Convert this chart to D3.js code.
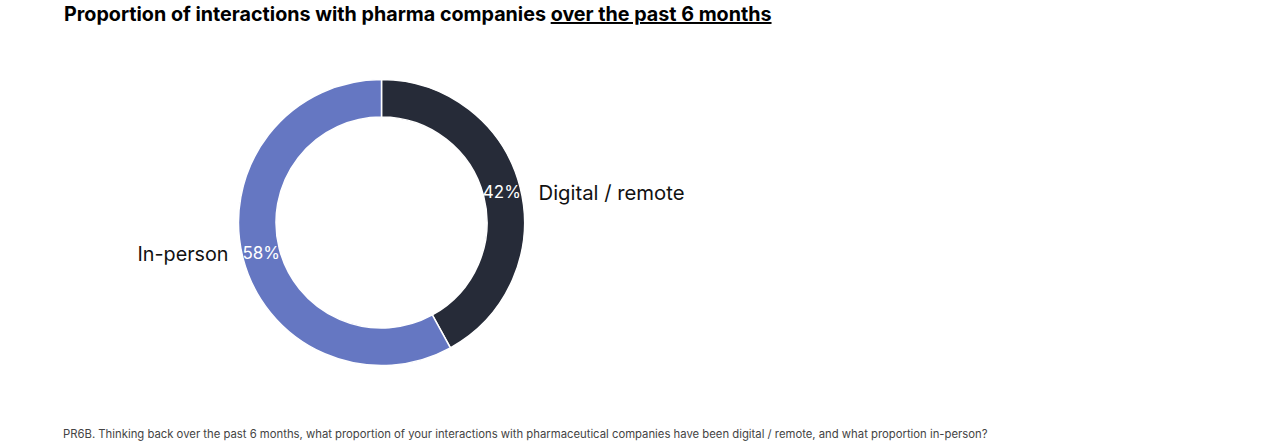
<!DOCTYPE html>
<html>
<head>
<meta charset="utf-8">
<script src="https://cdn.jsdelivr.net/npm/d3@7"></script>
<style>
  html, body { margin: 0; padding: 0; background: #fff; }
  svg { display: block; }
  text { font-family: Inter, "Open Sans", "DejaVu Sans", sans-serif; }
</style>
</head>
<body>
<svg id="chart" width="1280" height="442"></svg>
<script>
const categories = ["Digital / remote", "In-person"];
const values = [42, 58];
const colors = ["#262B38", "#6577C2"];
const titleMain = "Proportion of interactions with pharma companies ";
const titleUnder = "over the past 6 months";
const footnote = "PR6B. Thinking back over the past 6 months, what proportion of your interactions with pharmaceutical companies have been digital / remote, and what proportion in-person?";

const svg = d3.select("#chart");
const cx = 381.5, cy = 222.5, rOuter = 143, rInner = 105.5;

function fit(sel, target) {
  const node = sel.node();
  const w = node.getComputedTextLength();
  const fs = parseFloat(sel.attr("font-size"));
  sel.attr("font-size", (fs * target / w).toFixed(2));
}

// Title
const title = svg.append("text")
  .attr("x", 64).attr("y", 21)
  .attr("font-size", 18).attr("font-weight", 700).attr("fill", "#000");
title.append("tspan").text(titleMain);
title.append("tspan").attr("text-decoration", "underline").text(titleUnder);
fit(title, 708);

const data = categories.map((c, i) => ({ cat: c, value: values[i], color: colors[i] }));
const pie = d3.pie().sort(null).value(d => d.value);
const arcs = pie(data);
const arc = d3.arc().innerRadius(rInner).outerRadius(rOuter);

const g = svg.append("g").attr("transform", `translate(${cx},${cy})`);
g.selectAll("path").data(arcs).join("path")
  .attr("d", arc)
  .attr("fill", d => d.data.color)
  .attr("stroke", "#fff").attr("stroke-width", 1.5);

// percentage labels
g.selectAll("text.pct").data(arcs).join("text")
  .attr("class", "pct")
  .attr("x", d => arc.centroid(d)[0])
  .attr("y", d => arc.centroid(d)[1])
  .attr("text-anchor", "middle")
  .attr("dominant-baseline", "central")
  .attr("font-size", 17)
  .attr("fill", "#fff")
  .text(d => d.data.value + "%");

// category labels
const labelWidths = [146, 91];
g.selectAll("text.cat").data(arcs).join("text")
  .attr("class", "cat")
  .attr("x", d => {
    const mid = (d.startAngle + d.endAngle) / 2;
    return Math.sin(mid) > 0 ? rOuter + 14 : -(rOuter + 10);
  })
  .attr("y", d => arc.centroid(d)[1] + 1)
  .attr("text-anchor", d => Math.sin((d.startAngle + d.endAngle) / 2) > 0 ? "start" : "end")
  .attr("dominant-baseline", "central")
  .attr("font-size", 18)
  .attr("fill", "#111")
  .text(d => d.data.cat)
  .each(function(d, i) { fit(d3.select(this), labelWidths[i]); });

// Footnote
const fn = svg.append("text")
  .attr("x", 63).attr("y", 438)
  .attr("font-size", 10).attr("fill", "#444")
  .text(footnote);
fit(fn, 925);
</script>
</body>
</html>
